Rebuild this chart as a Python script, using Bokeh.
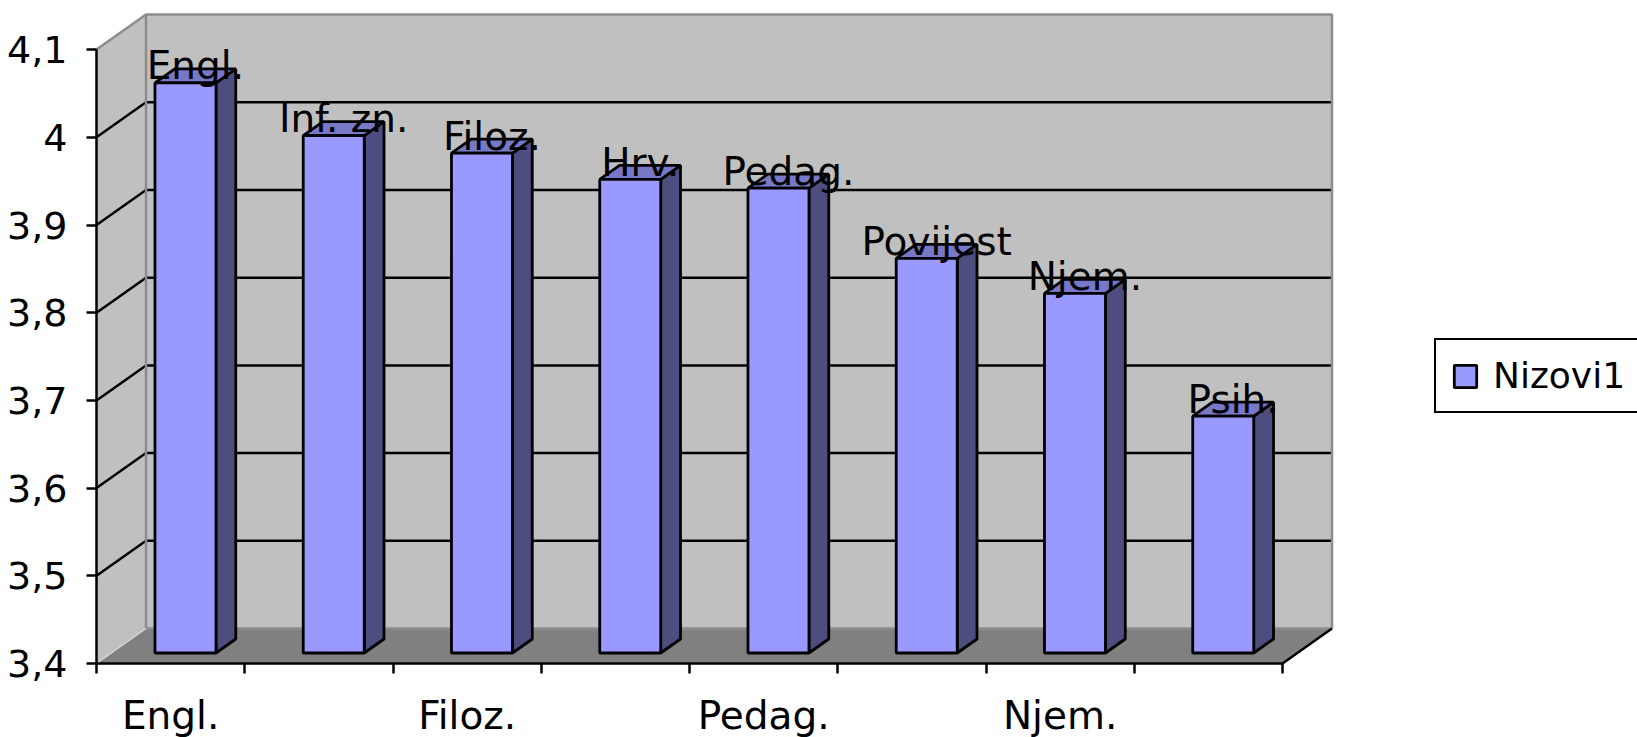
from bokeh.plotting import figure
from bokeh.models import Range1d, FixedTicker, Legend, LegendItem, ColumnDataSource
from bokeh.embed import file_html
from bokeh.resources import INLINE
from bokeh.core.properties import value

# ---------------- data ----------------
categories = ["Engl.", "Inf. zn.", "Filoz.", "Hrv.", "Pedag.", "Povijest", "Njem.", "Psih."]
values = [4.05, 3.99, 3.97, 3.94, 3.93, 3.85, 3.81, 3.67]
y_ticks = [3.4, 3.5, 3.6, 3.7, 3.8, 3.9, 4.0, 4.1]
y_tick_labels = ["3,4", "3,5", "3,6", "3,7", "3,8", "3,9", "4", "4,1"]
x_labelled = ["Engl.", "Filoz.", "Pedag.", "Njem."]
series_name = "Nizovi1"

# ---------------- layout / style ----------------
W, H = 1637, 737
MARGIN = 0              # observed page offset of the figure
AXIS_X_PAGE = 96.0      # page x of the front value axis
AXIS_Y_PAGE = 663.0     # page y of the front category axis
CAT_PX = 148.25         # pixels per category
UNIT_PX = 877.0         # pixels per value unit
DEPTH_X_PX = 49.5
DEPTH_Y_PX = 35.0
FD, BD = 0.30, 0.40     # bar front depth and bar depth (fraction of floor depth)
BAR_W_PX = 61.0
LABEL_LIFT_PX = 17.0
FONT = "DejaVu Sans"
FS = "39px"

y_min, y_max = y_ticks[0], y_ticks[-1]
n = len(categories)
DXU = DEPTH_X_PX / CAT_PX
DYU = DEPTH_Y_PX / UNIT_PX
BW = BAR_W_PX / CAT_PX

x_start = (MARGIN - AXIS_X_PAGE) / CAT_PX
x_end = (MARGIN + W - AXIS_X_PAGE) / CAT_PX
y_start = y_min - (MARGIN + H - AXIS_Y_PAGE) / UNIT_PX
y_end = y_min + (AXIS_Y_PAGE - MARGIN) / UNIT_PX

p = figure(width=W, height=H, output_backend="svg", toolbar_location=None,
           x_range=Range1d(x_start, x_end), y_range=Range1d(y_start, y_end),
           min_border=0)
p.outline_line_color = None
p.background_fill_color = "white"
p.border_fill_color = "white"
p.xgrid.visible = False
p.ygrid.visible = False

WALL = "#c0c0c0"
FLOOR = "#808080"
EDGE = "#8c8c8c"
LW = 2.8

# left (side) wall
p.patch([0, DXU, DXU, 0], [y_min, y_min + DYU, y_max + DYU, y_max],
        fill_color=WALL, line_color=None)
# back wall
p.quad(left=[DXU], right=[n + DXU], bottom=[y_min + DYU], top=[y_max + DYU],
       fill_color=WALL, line_color=None)
# floor
p.patch([0, n, n + DXU, DXU], [y_min, y_min, y_min + DYU, y_min + DYU],
        fill_color=FLOOR, line_color=None)

# grid lines (walls)
gx, gy = [], []
for v in y_ticks[1:-1]:
    gx.append([0, DXU, n + DXU])
    gy.append([v, v + DYU, v + DYU])
p.multi_line(gx, gy, line_color="black", line_width=2.5)

# wall edges
p.multi_line([[0, DXU, n + DXU, n + DXU], [DXU, DXU], [DXU, n + DXU]],
             [[y_max, y_max + DYU, y_max + DYU, y_min + DYU],
              [y_min + DYU, y_max + DYU], [y_min + DYU, y_min + DYU]],
             line_color=EDGE, line_width=2.5)
p.line([0, DXU], [y_min, y_min + DYU], line_color="#d8d8d8", line_width=1.2)
p.line([n, n + DXU], [y_min, y_min + DYU], line_color="black", line_width=2.5)

# bars
xc = [i + 0.5 for i in range(n)]
fl = [c - BW / 2 + FD * DXU for c in xc]
fr = [c + BW / 2 + FD * DXU for c in xc]
fb = [y_min + FD * DYU] * n
ft = [v + FD * DYU for v in values]

side_xs, side_ys, top_xs, top_ys = [], [], [], []
for l, r, b, t in zip(fl, fr, fb, ft):
    side_xs.append([r, r + BD * DXU, r + BD * DXU, r])
    side_ys.append([b, b + BD * DYU, t + BD * DYU, t])
    top_xs.append([l, r, r + BD * DXU, l + BD * DXU])
    top_ys.append([t, t, t + BD * DYU, t + BD * DYU])

p.patches(side_xs, side_ys, fill_color="#4d4d80", line_color="black", line_width=LW)
p.patches(top_xs, top_ys, fill_color="#7878c8", line_color="black", line_width=LW)
front = p.quad(left=fl, right=fr, bottom=fb, top=ft,
               fill_color="#9999ff", line_color="black", line_width=LW)

# data labels
lab_src = ColumnDataSource(dict(
    x=[c + 0.5 * DXU for c in xc],
    y=[t + LABEL_LIFT_PX / UNIT_PX for t in ft],
    text=categories))
p.text(x="x", y="y", text="text", source=lab_src, text_font=value(FONT),
       text_font_size=FS, text_align="center", text_baseline="alphabetic",
       text_color="black")

# value axis (front)
ya = p.yaxis[0]
ya.fixed_location = 0
ya.bounds = (y_min, y_max)
ya.ticker = FixedTicker(ticks=y_ticks)
ya.major_label_overrides = {t: s for t, s in zip(y_ticks, y_tick_labels)}
ya.axis_line_color = "black"
ya.axis_line_width = 2.5
ya.major_tick_out = 10
ya.major_tick_in = 0
ya.major_tick_line_color = "black"
ya.major_tick_line_width = 2.5
ya.minor_tick_line_color = None
ya.major_label_standoff = 19
ya.major_label_text_font = FONT
ya.major_label_text_font_size = "38px"
ya.major_label_text_color = "black"

# category axis (front)
xa = p.xaxis[0]
xa.fixed_location = y_min
xa.bounds = (0, n)
label_pos = [categories.index(c) + 0.5 for c in x_labelled]
xa.ticker = FixedTicker(ticks=label_pos, minor_ticks=list(range(n + 1)))
xa.major_label_overrides = {pos: c for pos, c in zip(label_pos, x_labelled)}
xa.axis_line_color = "black"
xa.axis_line_width = 2.5
xa.major_tick_line_color = None
xa.major_tick_out = 0
xa.major_tick_in = 0
xa.minor_tick_line_color = "black"
xa.minor_tick_line_width = 2.5
xa.minor_tick_out = 10
xa.minor_tick_in = 0
xa.major_label_standoff = 19
xa.major_label_text_font = FONT
xa.major_label_text_font_size = FS
xa.major_label_text_color = "black"

# legend
legend = Legend(items=[LegendItem(label=series_name, renderers=[front])],
                location=(1434 - MARGIN, MARGIN + H - 413), margin=0, padding=15,
                spacing=0, glyph_width=28, glyph_height=28, label_standoff=14,
                label_width=190,
                label_text_font=FONT, label_text_font_size="36px",
                label_text_color="black", border_line_color="black",
                border_line_alpha=1.0, border_line_width=2.5,
                background_fill_color="white", background_fill_alpha=1.0)
p.add_layout(legend)

open("out.html", "w").write(file_html(p, INLINE))
